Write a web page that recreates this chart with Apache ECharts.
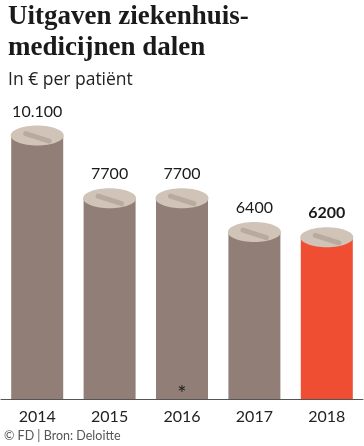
<!DOCTYPE html>
<html>
<head>
<meta charset="utf-8">
<script src="https://cdn.jsdelivr.net/npm/echarts@6/dist/echarts.min.js"></script>
<style>html,body{margin:0;padding:0;background:#fff;}#c{width:364px;height:446px;}</style>
</head>
<body>
<div id="c"></div>
<script>
var categories = ['2014', '2015', '2016', '2017', '2018'];
var values = [10100, 7700, 7700, 6400, 6200];
var valueLabels = ['10.100', '7700', '7700', '6400', '6200'];
var notes = ['', '', '*', '', ''];
var highlightIndex = 4;

var BODY = '#917f77', TOP = '#d0c4b9', SLOT = '#b8aa9f', RED = '#f04e32';
var SANS = 'Lato, "Open Sans", sans-serif';

var chart = echarts.init(document.getElementById('c'), null, {renderer: 'canvas'});
chart.setOption({
  animation: false,
  title: [
    {text: 'Uitgaven ziekenhuis-\nmedicijnen dalen', left: 8, top: 2, padding: 0,
     textStyle: {fontFamily: '"Liberation Serif", serif', fontWeight: 'bold', fontSize: 27, lineHeight: 31, color: '#1a1a1a'}},
    {text: 'In € per patiënt', left: 8, top: 71, padding: 0,
     textStyle: {fontFamily: '"Open Sans", sans-serif', fontWeight: 'normal', fontSize: 17.5, color: '#222'}},
    {text: '© FD | Bron: Deloitte', left: 4, top: 429, padding: 0,
     textStyle: {fontFamily: SANS, fontWeight: 'normal', fontSize: 12.5, color: '#555'}}
  ],
  grid: {left: 1, right: 1, top: 86, bottom: 47, containLabel: false},
  xAxis: {
    type: 'category', data: categories,
    axisLine: {lineStyle: {color: '#555', width: 1}},
    axisTick: {show: false},
    axisLabel: {fontFamily: SANS, fontSize: 16, color: '#222', margin: 10}
  },
  yAxis: {type: 'value', min: 0, max: 12000, show: false, splitLine: {show: false}},
  series: [
    {
      type: 'bar', barWidth: 52, z: 2,
      data: values.map(function (v, i) {
        return {value: v, itemStyle: {color: i === highlightIndex ? RED : BODY}};
      })
    },
    {
      type: 'custom', z: 3,
      data: values.map(function (v, i) { return [i, v]; }),
      renderItem: function (params, api) {
        var i = api.value(0), v = api.value(1);
        var p = api.coord([i, v]);
        var base = api.coord([i, 0]);
        var rx = 26.5, ry = 10;
        var children = [
          {type: 'ellipse', shape: {cx: p[0], cy: p[1], rx: rx, ry: ry}, style: {fill: TOP}},
          {type: 'line', shape: {x1: p[0] - 11.5, y1: p[1] - 2, x2: p[0] + 12, y2: p[1] + 5.5},
           style: {stroke: SLOT, lineWidth: 5, lineCap: 'round'}},
          {type: 'text', x: p[0], y: p[1] - 24,
           style: {text: valueLabels[i], align: 'center', verticalAlign: 'middle',
                   font: (i === highlightIndex ? 'bold ' : '') + '16px ' + SANS, fill: '#1a1a1a'}}
        ];
        if (notes[i]) {
          children.push({type: 'text', x: base[0], y: base[1] - 5,
            style: {text: notes[i], align: 'center', verticalAlign: 'middle', font: '22px ' + SANS, fill: '#222'}});
        }
        return {type: 'group', children: children};
      }
    }
  ]
});
</script>
</body>
</html>
